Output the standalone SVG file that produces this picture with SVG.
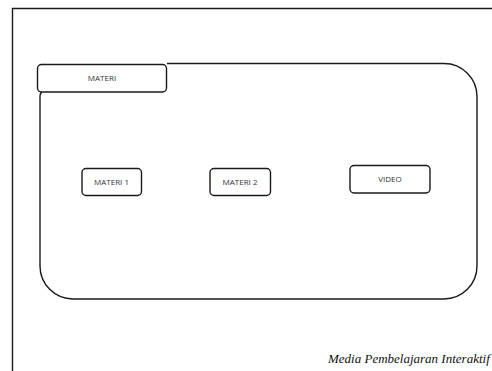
<svg xmlns="http://www.w3.org/2000/svg" width="492" height="371" viewBox="0 0 492 371">
<style>
.ln{fill:none;stroke:#1a1a1a;stroke-width:1.4}
.bx{fill:#fff;stroke:#1a1a1a;stroke-width:1.4}
.t{font-family:"Open Sans","Liberation Sans",sans-serif;font-size:8px;fill:#333;text-anchor:middle}
.f{font-family:"Liberation Serif",serif;font-style:italic;font-size:13px;fill:#111}
</style>
<rect width="492" height="371" fill="#fff"/>
<path class="ln" d="M12.5,380 V8.5 H500"/>
<g id="panel">
<path class="ln" d="M167,63.5 H444 A33,33 0 0 1 477,96.5 V266 A33,33 0 0 1 444,299 H73 A33,33 0 0 1 40,266 V96 Q40,93 42,92"/>
</g>
<g id="tab-materi">
<rect class="bx" x="37.5" y="64.5" width="129" height="27.5" rx="4"/>
<text class="t" x="102" y="81">MATERI</text>
</g>
<g id="materi1">
<rect class="bx" x="82" y="168.5" width="59.5" height="27" rx="4"/>
<text class="t" x="111.5" y="185">MATERI 1</text>
</g>
<g id="materi2">
<rect class="bx" x="210" y="168.5" width="60.5" height="27" rx="4"/>
<text class="t" x="240" y="185">MATERI 2</text>
</g>
<g id="video">
<rect class="bx" x="350" y="165.5" width="80" height="27.5" rx="4"/>
<text class="t" x="390" y="182">VIDEO</text>
</g>
<g id="connectors"></g>
<text class="f" x="328" y="363">Media Pembelajaran Interaktif</text>
</svg>
